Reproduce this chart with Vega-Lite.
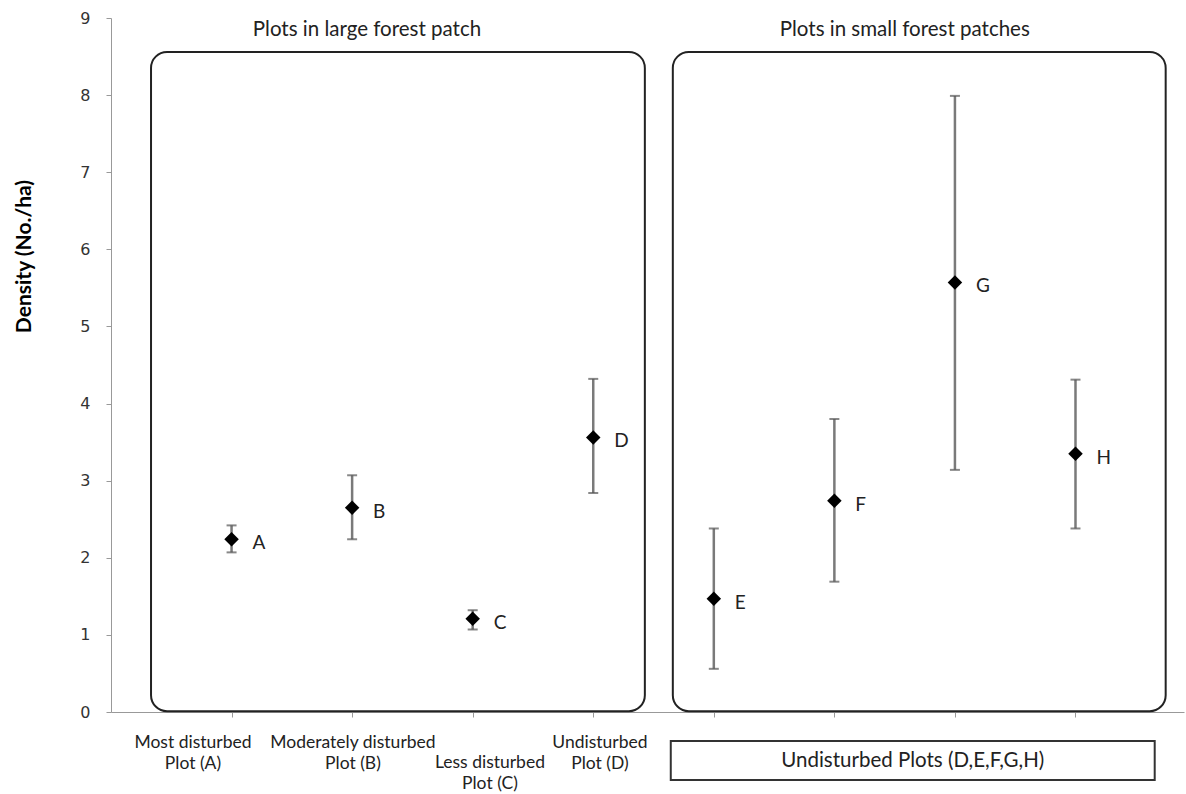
{
  "$schema": "https://vega.github.io/schema/vega-lite/v6.json",
  "width": 1073,
  "height": 694,
  "autosize": {"type": "none"},
  "padding": {"left": 111, "top": 18, "right": 2, "bottom": 82},
  "background": "white",
  "config": {"view": {"stroke": null}, "font": "Lato"},
  "datasets": {
    "points": [
      {"plot": "A", "idx": 1, "density": 2.24, "lower": 2.07, "upper": 2.42},
      {"plot": "B", "idx": 2, "density": 2.65, "lower": 2.24, "upper": 3.07},
      {"plot": "C", "idx": 3, "density": 1.21, "lower": 1.07, "upper": 1.32},
      {"plot": "D", "idx": 4, "density": 3.56, "lower": 2.84, "upper": 4.32},
      {"plot": "E", "idx": 5, "density": 1.47, "lower": 0.56, "upper": 2.38},
      {"plot": "F", "idx": 6, "density": 2.74, "lower": 1.69, "upper": 3.80},
      {"plot": "G", "idx": 7, "density": 5.57, "lower": 3.14, "upper": 7.99},
      {"plot": "H", "idx": 8, "density": 3.35, "lower": 2.38, "upper": 4.31}
    ],
    "panels": [
      {"title": "Plots in large forest patch", "x1": 0.332, "x2": 4.428, "y1": 0.01, "y2": 8.56, "tx": 2.123, "ty": 8.845},
      {"title": "Plots in small forest patches", "x1": 4.66, "x2": 8.748, "y1": 0.01, "y2": 8.56, "tx": 6.584, "ty": 8.845}
    ],
    "categories": [
      {"label": "Most disturbed\nPlot (A)", "cx": 0.68, "cy": -0.29},
      {"label": "Moderately disturbed\nPlot (B)", "cx": 2.007, "cy": -0.29},
      {"label": "Less disturbed\nPlot (C)", "cx": 3.143, "cy": -0.54},
      {"label": "Undisturbed\nPlot (D)", "cx": 4.055, "cy": -0.29}
    ],
    "groupbox": [
      {"label": "Undisturbed Plots (D,E,F,G,H)", "x1": 4.643, "x2": 8.657, "y1": -0.376, "y2": -0.882, "tx": 6.65, "ty": -0.635}
    ]
  },
  "layer": [
    {
      "data": {"name": "points"},
      "mark": {"type": "rule", "color": "#7a7a7a", "strokeWidth": 2.5},
      "encoding": {
        "x": {
          "field": "idx", "type": "quantitative", "title": null,
          "scale": {"domain": [0, 8.9], "nice": false, "zero": false},
          "axis": {"values": [1, 2, 3, 4, 5, 6, 7, 8], "labels": false, "title": null, "grid": false, "tickSize": 5, "tickColor": "#999999", "domainColor": "#999999"}
        },
        "y": {
          "field": "lower", "type": "quantitative", "title": "Density  (No./ha)",
          "scale": {"domain": [0, 9], "nice": false},
          "axis": {
            "values": [0, 1, 2, 3, 4, 5, 6, 7, 8, 9], "format": "d",
            "grid": false, "tickSize": 5, "tickColor": "#999999", "domainColor": "#999999",
            "labelFont": "DejaVu Sans", "labelFontSize": 16, "labelColor": "#333333", "labelPadding": 16,
            "title": "Density  (No./ha)", "titleFont": "Lato", "titleFontWeight": "bold", "titleFontSize": 21, "titleColor": "#000000",
            "titleX": -87, "titleY": 238, "titleAngle": 270, "titleAlign": "center", "titleBaseline": "middle"
          }
        },
        "y2": {"field": "upper"}
      }
    },
    {
      "data": {"name": "points"},
      "mark": {"type": "tick", "orient": "horizontal", "size": 10, "thickness": 2, "color": "#555555"},
      "encoding": {
        "x": {"field": "idx", "type": "quantitative", "title": null},
        "y": {"field": "lower", "type": "quantitative", "title": "Density  (No./ha)"}
      }
    },
    {
      "data": {"name": "points"},
      "mark": {"type": "tick", "orient": "horizontal", "size": 10, "thickness": 2, "color": "#555555"},
      "encoding": {
        "x": {"field": "idx", "type": "quantitative", "title": null},
        "y": {"field": "upper", "type": "quantitative", "title": "Density  (No./ha)"}
      }
    },
    {
      "data": {"name": "points"},
      "mark": {"type": "point", "shape": "diamond", "filled": true, "size": 210, "color": "#000000", "opacity": 1},
      "encoding": {
        "x": {"field": "idx", "type": "quantitative", "title": null},
        "y": {"field": "density", "type": "quantitative", "title": "Density  (No./ha)"}
      }
    },
    {
      "data": {"name": "points"},
      "mark": {"type": "text", "align": "left", "baseline": "middle", "dx": 21, "dy": 4, "fontSize": 19, "color": "#222222"},
      "encoding": {
        "x": {"field": "idx", "type": "quantitative", "title": null},
        "y": {"field": "density", "type": "quantitative", "title": "Density  (No./ha)"},
        "text": {"field": "plot"}
      }
    },
    {
      "data": {"name": "panels"},
      "mark": {"type": "rect", "fill": null, "fillOpacity": 0, "stroke": "#222222", "strokeWidth": 2, "cornerRadius": 16},
      "encoding": {
        "x": {"field": "x1", "type": "quantitative", "title": null},
        "x2": {"field": "x2"},
        "y": {"field": "y1", "type": "quantitative", "title": "Density  (No./ha)"},
        "y2": {"field": "y2"}
      }
    },
    {
      "data": {"name": "panels"},
      "mark": {"type": "text", "align": "center", "baseline": "middle", "fontSize": 20.5, "color": "#222222"},
      "encoding": {
        "x": {"field": "tx", "type": "quantitative", "title": null},
        "y": {"field": "ty", "type": "quantitative", "title": "Density  (No./ha)"},
        "text": {"field": "title"}
      }
    },
    {
      "data": {"name": "categories"},
      "mark": {"type": "text", "align": "center", "baseline": "top", "fontSize": 17.5, "lineHeight": 21, "lineBreak": "\n", "color": "#222222"},
      "encoding": {
        "x": {"field": "cx", "type": "quantitative", "title": null},
        "y": {"field": "cy", "type": "quantitative", "title": "Density  (No./ha)"},
        "text": {"field": "label"}
      }
    },
    {
      "data": {"name": "groupbox"},
      "mark": {"type": "rect", "fill": null, "fillOpacity": 0, "stroke": "#333333", "strokeWidth": 2},
      "encoding": {
        "x": {"field": "x1", "type": "quantitative", "title": null},
        "x2": {"field": "x2"},
        "y": {"field": "y1", "type": "quantitative", "title": "Density  (No./ha)"},
        "y2": {"field": "y2"}
      }
    },
    {
      "data": {"name": "groupbox"},
      "mark": {"type": "text", "align": "center", "baseline": "middle", "fontSize": 20.5, "color": "#222222"},
      "encoding": {
        "x": {"field": "tx", "type": "quantitative", "title": null},
        "y": {"field": "ty", "type": "quantitative", "title": "Density  (No./ha)"},
        "text": {"field": "label"}
      }
    }
  ]
}
